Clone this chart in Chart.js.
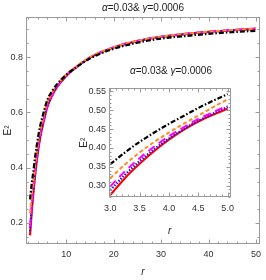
<!DOCTYPE html>
<html><head><meta charset="utf-8">
<script src="https://cdn.jsdelivr.net/npm/chart.js@4/dist/chart.umd.min.js"></script>
<style>
html,body{margin:0;padding:0;background:#fff;}
#wrap{position:relative;width:266px;height:280px;overflow:hidden;}
#main{position:absolute;left:0;top:0;}
#inset{position:absolute;left:78px;top:80px;}
.ttl{position:absolute;font-family:'Liberation Sans Narrow','Arial Narrow','Liberation Sans',sans-serif;font-size:10px;line-height:12px;color:#222;white-space:nowrap;transform:translateX(-50%);}
</style></head>
<body><div id="wrap">
<canvas id="main" width="266" height="280"></canvas>
<canvas id="inset" width="162" height="160"></canvas>
<div class="ttl" style="left:143px;top:2px"><i>α</i>=0.03&amp; <i>γ</i>=0.0006</div>
<div class="ttl" style="left:171px;top:65px"><i>α</i>=0.03&amp; <i>γ</i>=0.0006</div>
</div>
<script>
// ---- main plot data ----
const mainR = [2.35, 2.5, 2.75, 3, 3.5, 4, 4.5, 5, 6, 7, 8, 10, 12, 15, 20, 25, 30, 35, 40, 45, 50];
const mainRed     = [0.155,0.192,0.250,0.298,0.385,0.455,0.510,0.550,0.620,0.660,0.690,0.732,0.762,0.798,0.835,0.858,0.873,0.883,0.891,0.897,0.902];
const mainBlue    = [0.170,0.206,0.262,0.309,0.393,0.461,0.515,0.554,0.623,0.662,0.692,0.733,0.762,0.798,0.835,0.858,0.873,0.883,0.891,0.897,0.902];
const mainMagenta = [0.185,0.220,0.274,0.319,0.401,0.466,0.519,0.556,0.624,0.663,0.692,0.734,0.763,0.799,0.836,0.859,0.874,0.884,0.892,0.898,0.903];
const mainOrange  = [0.235,0.262,0.307,0.342,0.420,0.485,0.536,0.573,0.637,0.672,0.699,0.737,0.765,0.800,0.836,0.859,0.874,0.884,0.892,0.898,0.903];
const mainBlack   = [0.285,0.310,0.349,0.380,0.449,0.506,0.552,0.586,0.645,0.677,0.701,0.736,0.762,0.795,0.830,0.852,0.867,0.876,0.884,0.890,0.895];
const mainXTicks = [10, 20, 30, 40, 50];
const mainYTicks = [0.2, 0.4, 0.6, 0.8];

// ---- inset data ----
const insetR = [3, 3.25, 3.5, 3.75, 4, 4.25, 4.5, 4.75, 5];
const insetRed     = [0.275,0.320,0.358,0.392,0.422,0.448,0.470,0.488,0.504];
const insetBlue    = [0.288,0.329,0.365,0.397,0.425,0.450,0.472,0.491,0.509];
const insetMagenta = [0.298,0.338,0.373,0.404,0.431,0.455,0.477,0.495,0.512];
const insetOrange  = [0.320,0.356,0.388,0.416,0.441,0.464,0.486,0.508,0.529];
const insetBlack   = [0.357,0.388,0.416,0.441,0.464,0.485,0.506,0.525,0.543];
const insetXTicks = [3.0, 3.5, 4.0, 4.5, 5.0];
const insetYTicks = [0.30, 0.35, 0.40, 0.45, 0.50, 0.55];

const FONT = "'Liberation Sans Narrow','Arial Narrow','Liberation Sans',sans-serif";
const LBL = '#333';

function pts(xs, ys){ return xs.map((x,i)=>({x:x, y:ys[i]})); }

function makeSets(r, red, blue, mag, org, blk){
  return [
    {label:'black', data:pts(r,blk), borderColor:'#000000', borderWidth:2.2, borderDash:[5,2,1.5,2], order:1},
    {label:'orange', data:pts(r,org), borderColor:'#ff8c1a', borderWidth:2, borderDash:[4,2.5], order:2},
    {label:'magenta', data:pts(r,mag), borderColor:'#ff00ff', borderWidth:2, borderDash:[8,5], order:3},
    {label:'blue', data:pts(r,blue), borderColor:'#1a1aff', borderWidth:2.2, borderDash:[1.5,1.5], order:4},
    {label:'red', data:pts(r,red), borderColor:'#ff0000', borderWidth:2.2, order:5}
  ].map(d=>Object.assign(d,{pointRadius:0, fill:false, cubicInterpolationMode:'monotone'}));
}

const frameTicks = {
  id:'frameTicks',
  afterDatasetsDraw(chart, args, o){
    const ctx = chart.ctx, a = chart.chartArea, xs = chart.scales.x, ys = chart.scales.y;
    ctx.save();
    ctx.strokeStyle = '#9a9a9a';
    ctx.lineWidth = 1;
    const L = Math.round(a.left)+0.5, R = Math.round(a.right)-0.5, T = Math.round(a.top)+0.5, B = Math.round(a.bottom)-0.5;
    ctx.strokeRect(L, T, R-L, B-T);
    ctx.beginPath();
    const steps = (min,max,step)=>{const out=[];for(let k=Math.ceil(min/step-1e-9);k*step<=max+1e-9;k++)out.push(+(k*step).toFixed(6));return out;};
    const isMajor = (v,list)=>list.some(m=>Math.abs(m-v)<1e-6);
    steps(xs.min, xs.max, o.xMinor).forEach(v=>{
      const p = Math.round(xs.getPixelForValue(v))+0.5;
      const len = isMajor(v,o.xMajor)?4:2;
      ctx.moveTo(p,B); ctx.lineTo(p,B-len);
      ctx.moveTo(p,T); ctx.lineTo(p,T+len);
    });
    steps(ys.min, ys.max, o.yMinor).forEach(v=>{
      const p = Math.round(ys.getPixelForValue(v))+0.5;
      const len = isMajor(v,o.yMajor)?4:2;
      ctx.moveTo(L,p); ctx.lineTo(L+len,p);
      ctx.moveTo(R,p); ctx.lineTo(R-len,p);
    });
    ctx.stroke();
    ctx.restore();
  }
};

function axes(cfg){
  return {
    x:{type:'linear', min:cfg.xmin, max:cfg.xmax,
      grid:{display:false, drawTicks:false}, border:{display:false},
      afterBuildTicks: ax=>{ ax.ticks = cfg.xt.map(v=>({value:v})); },
      afterFit: ax=>{ ax.height = cfg.xh; },
      ticks:{padding:cfg.xpad, autoSkip:false, maxRotation:0, color:LBL, font:{family:FONT,size:9},
        callback: v=>cfg.xfmt(v)},
      title:{display:true, text:'r', color:'#222', font:{family:FONT,size:10,style:'italic'}, padding:{top:0,bottom:cfg.xtp}}
    },
    y:{type:'linear', min:cfg.ymin, max:cfg.ymax,
      grid:{display:false, drawTicks:false}, border:{display:false},
      afterBuildTicks: ax=>{ ax.ticks = cfg.yt.map(v=>({value:v})); },
      afterFit: ax=>{ ax.width = cfg.yw; },
      ticks:{padding:3, autoSkip:false, color:LBL, font:{family:FONT,size:9},
        callback: v=>cfg.yfmt(v)},
      title:{display:true, text:'E²', color:'#222', font:{family:FONT,size:10}, padding:{top:0,bottom:0}}
    }
  };
}

new Chart(document.getElementById('main'), {
  type:'line',
  data:{datasets: makeSets(mainR, mainRed, mainBlue, mainMagenta, mainOrange, mainBlack)},
  options:{
    responsive:false, animation:false, devicePixelRatio:1,
    layout:{padding:{left:2, right:5, top:17, bottom:0}},
    plugins:{legend:{display:false}, tooltip:{enabled:false},
      frameTicks:{xMajor:mainXTicks, xMinor:2, yMajor:mainYTicks, yMinor:0.05}},
    scales: axes({xmin:1.5, xmax:50.8, ymin:0.124, ymax:0.945, xt:mainXTicks, yt:mainYTicks,
      xh:36, yw:24, xpad:5, xtp:2, xfmt:v=>String(v), yfmt:v=>v.toFixed(1)})
  },
  plugins:[frameTicks]
});

new Chart(document.getElementById('inset'), {
  type:'line',
  data:{datasets: makeSets(insetR, insetRed, insetBlue, insetMagenta, insetOrange, insetBlack)},
  options:{
    responsive:false, animation:false, devicePixelRatio:1,
    layout:{padding:{left:0, right:5, top:2, bottom:0}},
    plugins:{legend:{display:false}, tooltip:{enabled:false},
      frameTicks:{xMajor:insetXTicks, xMinor:0.1, yMajor:insetYTicks, yMinor:0.01}},
    scales: axes({xmin:2.979, xmax:5.049, ymin:0.27, ymax:0.558, xt:insetXTicks, yt:insetYTicks,
      xh:43, yw:31, xpad:6, xtp:3, xfmt:v=>v.toFixed(1), yfmt:v=>v.toFixed(2)})
  },
  plugins:[frameTicks]
});
</script>
</body></html>
